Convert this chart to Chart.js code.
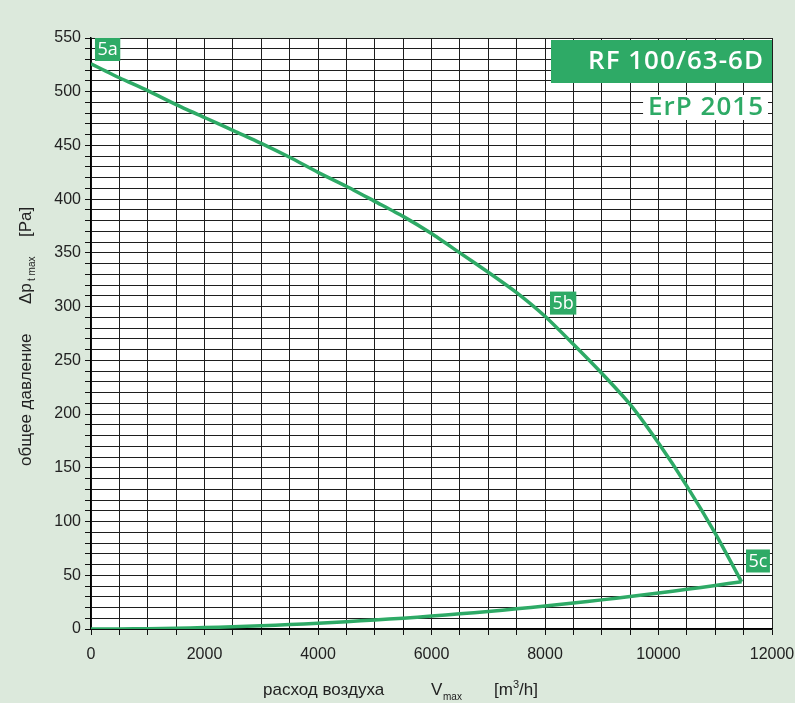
<!DOCTYPE html>
<html>
<head>
<meta charset="utf-8">
<script src="https://cdn.jsdelivr.net/npm/chart.js@4.4.1/dist/chart.umd.min.js"></script>
<style>
  html, body { margin: 0; padding: 0; background: #dce9dc; }
  #wrap { width: 795px; height: 703px; }
</style>
</head>
<body>
<div id="wrap"><canvas id="fanChart" width="795" height="703"></canvas></div>
<script>
// airflow V [m3/h]
const airflow = [0, 500, 1000, 1500, 2000, 2500, 3000, 3500, 4000, 4500, 5000, 5500,
  6000, 6500, 7000, 7500, 8000, 8500, 9000, 9500, 10000, 10500, 11000, 11464];
// upper curve 5a -> 5b -> 5c, total pressure [Pa]
const pressureMax = [526, 513, 501, 488, 476, 464, 452, 439, 425, 412, 398, 384,
  368, 350, 332, 313, 291, 265, 238, 209, 173, 133, 89, 44];
// system curve back down to 0
const pressureSystem = [0, 0.1, 0.3, 0.8, 1.3, 2.1, 3.0, 4.1, 5.4, 6.8, 8.4, 10.1,
  12.0, 14.1, 16.3, 18.8, 21.3, 24.2, 27.1, 30.2, 33.5, 36.9, 40.5, 44];
// point labels (text, anchor in data coords = top-left of the tag)
const tagTexts = ["5a", "5b", "5c"];
const tagX = [70, 8088, 11542];
const tagY = [550, 314, 74];

const xTickLabels = [0, 2000, 4000, 6000, 8000, 10000, 12000];
const yTickLabels = [0, 50, 100, 150, 200, 250, 300, 350, 400, 450, 500, 550];

const GREEN = "rgb(46,170,102)";
const BASE_FONT = "'Liberation Sans', Arial, sans-serif";
const TITLE_FONT = "'Open Sans', Lato, sans-serif";

const toPoints = (ys) => airflow.map((x, i) => ({ x: x, y: ys[i] }));

const decorPlugin = {
  id: "decor",
  beforeDraw(chart) {
    const { ctx, chartArea } = chart;
    ctx.save();
    ctx.fillStyle = "#ffffff";
    ctx.fillRect(chartArea.left, chartArea.top, chartArea.right - chartArea.left, chartArea.bottom - chartArea.top);
    ctx.restore();
  },
  afterDraw(chart) {
    const { ctx } = chart;
    const xs = chart.scales.x, ys = chart.scales.y;
    ctx.save();

    // point tags
    ctx.font = "18px " + TITLE_FONT;
    ctx.textBaseline = "middle";
    ctx.textAlign = "left";
    tagTexts.forEach((t, i) => {
      const px = xs.getPixelForValue(tagX[i]);
      const py = ys.getPixelForValue(tagY[i]);
      const w = ctx.measureText(t).width + 5;
      ctx.fillStyle = GREEN;
      ctx.fillRect(px, py, w, 23);
      ctx.fillStyle = "#ffffff";
      ctx.fillText(t, px + 2.5, py + 12);
    });

    // title boxes
    ctx.fillStyle = GREEN;
    ctx.fillRect(551, 40, 221, 43);
    ctx.font = "600 26px " + TITLE_FONT;
    ctx.letterSpacing = "1px";
    ctx.textAlign = "right";
    ctx.fillStyle = "#ffffff";
    ctx.fillText("RF 100/63-6D", 764, 62);

    const erp = "ErP 2015";
    const ew = ctx.measureText(erp).width;
    ctx.fillStyle = "#ffffff";
    ctx.fillRect(764 - ew - 5, 95, ew + 9, 25);
    ctx.fillStyle = GREEN;
    ctx.fillText(erp, 764, 108);
    ctx.letterSpacing = "0px";

    // x axis title
    ctx.fillStyle = "#222";
    ctx.textAlign = "left";
    ctx.textBaseline = "alphabetic";
    ctx.font = "17px " + BASE_FONT;
    ctx.fillText("расход воздуха", 263, 695);
    ctx.fillText("V", 431, 695);
    ctx.fillText("[m", 494, 695);
    let mw = ctx.measureText("[m").width;
    ctx.font = "11px " + BASE_FONT;
    ctx.fillText("3", 494 + mw, 688);
    let sw = ctx.measureText("3").width;
    ctx.font = "17px " + BASE_FONT;
    ctx.fillText("/h]", 494 + mw + sw, 695);
    ctx.font = "10px " + BASE_FONT;
    ctx.fillText("max", 443, 700);

    // y axis title (rotated)
    ctx.translate(31, 0);
    ctx.rotate(-Math.PI / 2);
    ctx.font = "17px " + BASE_FONT;
    ctx.fillText("общее давление", -466, 0);
    ctx.fillText("Δp", -304, 0);
    ctx.fillText("[Pa]", -237, 0);
    ctx.font = "10px " + BASE_FONT;
    ctx.fillText("t max", -281, 4);

    ctx.restore();
  }
};

new Chart(document.getElementById("fanChart"), {
  type: "scatter",
  data: {
    datasets: [
      {
        data: toPoints(pressureMax),
        showLine: true,
        borderColor: GREEN,
        borderWidth: 3.5,
        pointRadius: 0,
        tension: 0.2,
      },
      {
        data: toPoints(pressureSystem),
        showLine: true,
        borderColor: GREEN,
        borderWidth: 3.5,
        pointRadius: 0,
        tension: 0.2,
      },
    ],
  },
  options: {
    responsive: false,
    animation: false,
    layout: { padding: { top: 38, right: 23, bottom: 0, left: 0 } },
    plugins: { legend: { display: false }, tooltip: { enabled: false } },
    scales: {
      x: {
        type: "linear",
        min: 0,
        max: 12000,
        afterFit: (scale) => {
          scale.height = 74;
          scale.paddingLeft = 0;
          scale.paddingRight = 0;
        },
        ticks: {
          stepSize: 500,
          autoSkip: false,
          maxRotation: 0,
          padding: 10,
          color: "#222",
          font: { family: BASE_FONT, size: 16 },
          callback: (v) => (xTickLabels.includes(v) ? String(v) : ""),
        },
        grid: { color: "#1e1e1e", lineWidth: 1, tickLength: 6, tickColor: "#111" },
        border: { color: "#000", width: 1.5 },
      },
      y: {
        min: 0,
        max: 550,
        afterFit: (scale) => {
          scale.width = 91;
          scale.paddingTop = 0;
          scale.paddingBottom = 0;
        },
        ticks: {
          stepSize: 10,
          autoSkip: false,
          padding: 4,
          color: "#222",
          font: { family: BASE_FONT, size: 16 },
          callback: (v) => (yTickLabels.includes(v) ? String(v) : ""),
        },
        grid: { color: "#1e1e1e", lineWidth: 1, tickLength: 6, tickColor: "#111" },
        border: { color: "#000", width: 1.5 },
      },
    },
  },
  plugins: [decorPlugin],
});
</script>
</body>
</html>
